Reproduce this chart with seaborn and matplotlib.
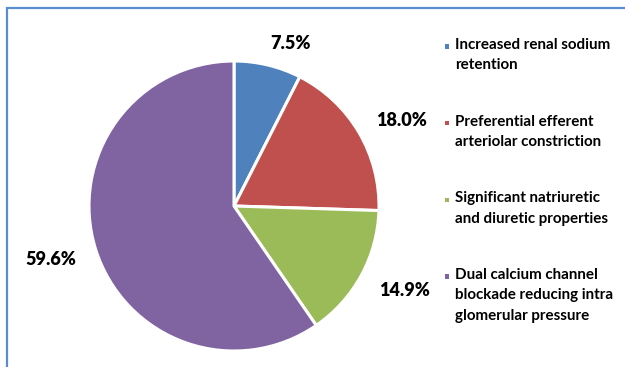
import matplotlib
matplotlib.use("Agg")
import matplotlib.pyplot as plt
import numpy as np
import seaborn as sns
from matplotlib.patches import Rectangle

# Mechanism shares (percent)
mechanisms = [
    "Increased renal sodium\nretention",
    "Preferential efferent\narteriolar constriction",
    "Significant natriuretic\nand diuretic properties",
    "Dual calcium channel\nblockade reducing intra\nglomerular pressure",
]
shares = [7.5, 18.0, 14.9, 59.6]
slice_colors = ["#4F81BD", "#C0504D", "#9BBB59", "#8064A2"]

sns.set_theme(style="white")
plt.rcParams["font.family"] = ["Lato", "DejaVu Sans"]

W, H = 625, 367
fig = plt.figure(figsize=(W / 100, H / 100), dpi=100)
ax = fig.add_axes([89 / W, 16 / H, 290 / W, 290 / H])

palette = sns.color_palette(slice_colors)
wedges, _ = ax.pie(
    shares,
    colors=palette,
    startangle=90,
    counterclock=False,
    wedgeprops=dict(edgecolor="white", linewidth=2.2),
)
ax.set_xlim(-1, 1)
ax.set_ylim(-1, 1)
ax.set_aspect("equal")

# Percentage labels set just outside each slice's outer edge (pixel offsets)
label_offsets = [(23, 22), (43, 11.5), (43, -15), (-44.5, -10)]
for w, val, off in zip(wedges, shares, label_offsets):
    mid = np.deg2rad((w.theta1 + w.theta2) / 2)
    ax.annotate(f"{val:.1f}%", xy=(np.cos(mid), np.sin(mid)),
                xytext=off, textcoords="offset pixels",
                ha="center", va="center", fontsize=13, fontweight="heavy",
                color="black")

# Legend entries: square key beside the first line of each label
legend_x, legend_top, legend_step = 455, 46.5, 76.7
for i, (name, col) in enumerate(zip(mechanisms, slice_colors)):
    yc = legend_top + i * legend_step
    fig.patches.append(Rectangle(((legend_x - 10.5) / W, 1 - (yc + 2) / H),
                                 4.3 / W, 4.3 / H, transform=fig.transFigure,
                                 facecolor=col, edgecolor="none"))
    fig.text(legend_x / W, 1 - (yc - 8.5) / H, name, ha="left", va="top",
             fontsize=10.9, fontweight="bold", color="black",
             linespacing=1.58)

# Chart border
fig.patches.append(Rectangle((7 / W, -0.1), 1.2, 1.1 - 8.5 / H,
                             transform=fig.transFigure, fill=False,
                             edgecolor="#5B8BD0", linewidth=1.6))

fig.savefig("out.png", dpi=100)
